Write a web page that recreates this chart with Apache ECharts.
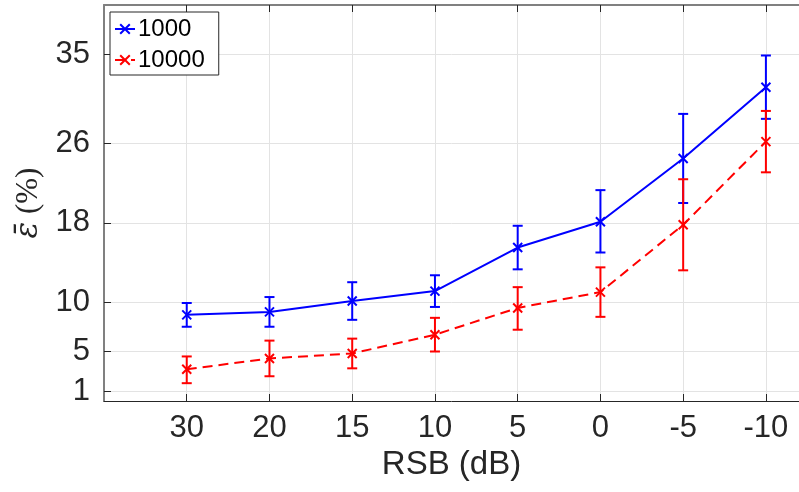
<!DOCTYPE html>
<html>
<head>
<meta charset="utf-8">
<script src="https://cdn.jsdelivr.net/npm/echarts@6/dist/echarts.min.js"></script>
<style>html,body{margin:0;padding:0;background:#fff;}#c{width:799px;height:492px;}</style>
</head>
<body>
<div id="c"></div>
<script>
const categories = ['30', '20', '15', '10', '5', '0', '-5', '-10'];
const yTicks = [1, 5, 10, 18, 26, 35];
const seriesNames = ['1000', '10000'];
const mean1000 = [8.7, 9.0, 10.1, 11.1, 15.5, 18.1, 24.5, 31.7];
const low1000 = [7.5, 7.5, 8.2, 9.5, 13.3, 15.0, 20.0, 28.5];
const high1000 = [9.9, 10.5, 12.0, 12.7, 17.7, 21.3, 29.0, 34.9];
const mean10000 = [3.2, 4.3, 4.8, 6.7, 9.4, 11.0, 17.8, 26.2];
const low10000 = [1.8, 2.5, 3.3, 5.0, 7.2, 8.5, 13.2, 23.1];
const high10000 = [4.5, 6.1, 6.3, 8.4, 11.5, 13.5, 22.4, 29.3];

const xPos = categories.map((c, i) => i + 1);
const FONT = "'Liberation Sans', Arial, Helvetica, sans-serif";
const SERIF = "'Liberation Serif', 'DejaVu Serif', serif";
const TXT = '#262626';
const BLUE = '#0000ff';
const RED = '#ff0000';
const X_SYM = 'path://M0,0L10,10M10,0L0,10';

function lineData(vals) { return vals.map((v, i) => [xPos[i], v]); }
function errData(lo, hi) { return lo.map((v, i) => [xPos[i], v, hi[i]]); }

function errRender(color) {
  return function (params, api) {
    const x = api.value(0);
    const p1 = api.coord([x, api.value(1)]);
    const p2 = api.coord([x, api.value(2)]);
    const w = 5;
    const style = { stroke: color, lineWidth: 2, fill: null };
    return {
      type: 'group',
      children: [
        { type: 'line', shape: { x1: p1[0], y1: p1[1], x2: p2[0], y2: p2[1] }, style: style },
        { type: 'line', shape: { x1: p1[0] - w, y1: p1[1], x2: p1[0] + w, y2: p1[1] }, style: style },
        { type: 'line', shape: { x1: p2[0] - w, y1: p2[1], x2: p2[0] + w, y2: p2[1] }, style: style }
      ]
    };
  };
}

const chart = echarts.init(document.getElementById('c'), null, { renderer: 'canvas' });
chart.setOption({
  animation: false,
  backgroundColor: '#ffffff',
  textStyle: { fontFamily: FONT },
  grid: { left: 104, right: 0, top: 5, bottom: 91, containLabel: false },
  legend: {
    data: seriesNames,
    orient: 'vertical',
    left: 110, top: 12,
    padding: [5, 14, 3, 4],
    itemGap: 7,
    itemWidth: 20, itemHeight: 12,
    backgroundColor: '#ffffff',
    borderColor: '#262626', borderWidth: 1,
    textStyle: { fontSize: 24, color: '#000', fontFamily: FONT, padding: [0, 0, 0, -2] }
  },
  xAxis: [{
    type: 'value', min: 0, max: 8.4, position: 'bottom',
    name: 'RSB (dB)', nameLocation: 'middle', nameGap: 46,
    nameTextStyle: { fontSize: 33, color: TXT, fontFamily: FONT },
    axisLine: { show: true, lineStyle: { color: '#262626', width: 1 } },
    axisTick: { show: true, inside: true, length: 7, customValues: xPos, lineStyle: { color: '#262626' } },
    axisLabel: { customValues: xPos, fontSize: 31, color: TXT, margin: 12, fontFamily: FONT,
      formatter: v => categories[Math.round(v) - 1] },
    splitLine: { show: true, lineStyle: { color: '#e3e3e3', width: 1 } }
  }, {
    type: 'value', min: 0, max: 8.4, position: 'top',
    axisLine: { show: true, lineStyle: { color: '#808080', width: 2 } },
    axisTick: { show: true, inside: true, length: 7, customValues: xPos, lineStyle: { color: '#262626' } },
    axisLabel: { show: false },
    splitLine: { show: false }
  }],
  yAxis: [{
    type: 'value', min: 0, max: 40,
    name: '{e|ε\u0304}{p|\u00a0(%)}', nameLocation: 'middle', nameGap: 55, nameRotate: 90,
    nameTextStyle: {
      fontSize: 31, color: TXT, fontFamily: SERIF,
      rich: {
        e: { fontSize: 31, fontStyle: 'italic', fontFamily: "'DejaVu Serif', serif", color: TXT },
        p: { fontSize: 31, fontFamily: SERIF, color: TXT }
      }
    },
    axisLine: { show: true, lineStyle: { color: '#808080', width: 2 } },
    axisTick: { show: true, inside: true, length: 7, customValues: yTicks, lineStyle: { color: '#262626' } },
    axisLabel: { customValues: yTicks, fontSize: 31, color: TXT, margin: 14, fontFamily: FONT },
    splitLine: { show: true, lineStyle: { color: '#e3e3e3', width: 1 } }
  }],
  series: [
    {
      name: seriesNames[0], type: 'line', data: lineData(mean1000),
      symbol: X_SYM, symbolSize: 9, showSymbol: true,
      lineStyle: { color: BLUE, width: 2 },
      itemStyle: { color: BLUE, borderColor: BLUE, borderWidth: 2 },
      z: 3
    },
    {
      name: seriesNames[1], type: 'line', data: lineData(mean10000),
      symbol: X_SYM, symbolSize: 9, showSymbol: true,
      lineStyle: { color: RED, width: 2, type: [10, 6] },
      itemStyle: { color: RED, borderColor: RED, borderWidth: 2 },
      z: 3
    },
    {
      name: 'err1000', type: 'custom', data: errData(low1000, high1000),
      renderItem: errRender(BLUE), encode: { x: 0, y: [1, 2] }, z: 2, silent: true
    },
    {
      name: 'err10000', type: 'custom', data: errData(low10000, high10000),
      renderItem: errRender(RED), encode: { x: 0, y: [1, 2] }, z: 2, silent: true
    }
  ]
});
</script>
</body>
</html>
